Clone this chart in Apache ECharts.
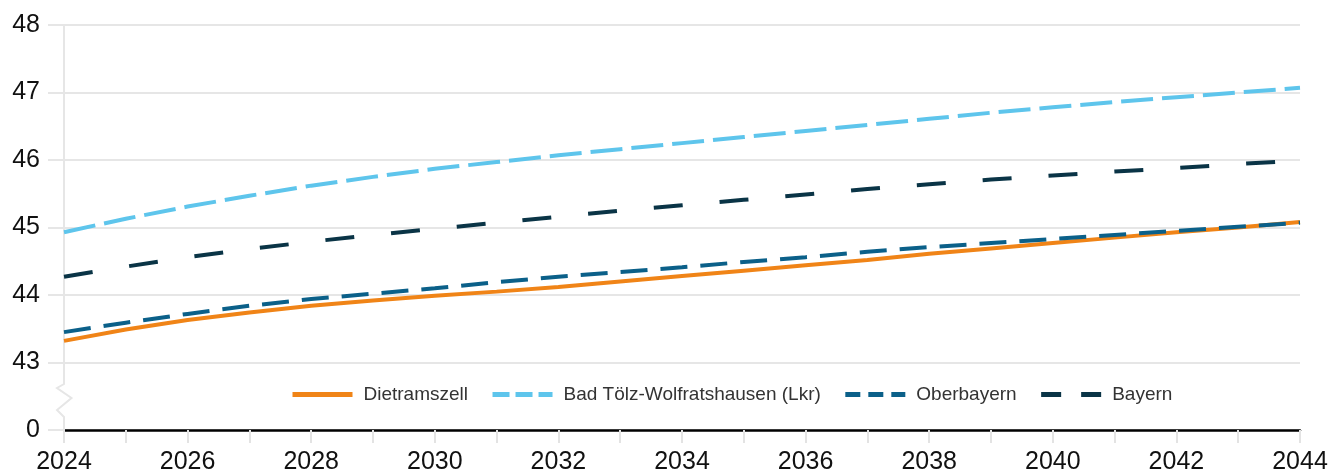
<!DOCTYPE html>
<html>
<head>
<meta charset="utf-8">
<script src="https://cdn.jsdelivr.net/npm/echarts@6/dist/echarts.min.js"></script>
<style>
html,body{margin:0;padding:0;background:#fff;}
#chart{width:1335px;height:476px;}
</style>
</head>
<body>
<div id="chart"></div>
<script>
// ---- Data ----
const years = [2024,2025,2026,2027,2028,2029,2030,2031,2032,2033,2034,2035,2036,2037,2038,2039,2040,2041,2042,2043,2044];
const seriesNames = ['Dietramszell', 'Bad Tölz-Wolfratshausen (Lkr)', 'Oberbayern', 'Bayern'];
const dietramszell = [43.32,43.49,43.63,43.74,43.84,43.92,43.99,44.05,44.12,44.20,44.28,44.36,44.44,44.52,44.61,44.69,44.77,44.85,44.93,45.00,45.08];
const badToelz     = [44.93,45.13,45.31,45.47,45.62,45.75,45.87,45.97,46.07,46.16,46.25,46.34,46.43,46.52,46.61,46.70,46.78,46.86,46.93,47.00,47.07];
const oberbayern   = [43.45,43.59,43.72,43.84,43.94,44.02,44.10,44.19,44.27,44.34,44.41,44.49,44.56,44.64,44.71,44.77,44.83,44.89,44.95,45.01,45.07];
const bayern       = [44.27,44.42,44.56,44.68,44.79,44.89,44.98,45.07,45.16,45.25,45.33,45.41,45.49,45.57,45.64,45.71,45.77,45.83,45.88,45.94,45.99];
// y-axis: broken axis, lowest tick shown as 0
const yTickLabels = {42:'0',43:'43',44:'44',45:'45',46:'46',47:'47',48:'48'};

const colors = ['#F08417', '#5EC5EC', '#0B6089', '#0A3446'];
const dashes = [null, [32, 9], [27, 13], [29, 37]];
const legendDashes = [null, [17, 6], [15, 8], [20, 20]];

function pairs(arr){ return years.map((y,i)=>[y, arr[i]]); }
const allData = [dietramszell, badToelz, oberbayern, bayern];

const chart = echarts.init(document.getElementById('chart'), null, {renderer:'canvas'});

const series = seriesNames.map((n,i)=>({
  name: n,
  type: 'line',
  data: pairs(allData[i]),
  showSymbol: false,
  symbol: 'none',
  smooth: false,
  lineStyle: {color: colors[i], width: 4, type: dashes[i] || 'solid', cap: 'butt'},
  itemStyle: {color: colors[i]},
  z: 3 + i
}));

const option = {
  animation: false,
  grid: {left: 64, right: 35, top: 25, bottom: 46, containLabel: false},
  legend: {
    left: 285, top: 380,
    itemWidth: 60, itemHeight: 18, itemGap: 22,
    data: seriesNames.map((n,i)=>({
      name: n,
      itemStyle: {opacity: 0},
      lineStyle: {color: colors[i], width: 5, type: legendDashes[i] || 'solid', cap:'butt'}
    })),
    textStyle: {fontFamily: 'Liberation Sans', fontSize: 19, color: '#333', padding: [0,0,0,6]}
  },
  xAxis: {
    type: 'value', min: 2024, max: 2044, interval: 1,
    axisLine: {show: true, onZero: false, lineStyle: {color: '#000', width: 2.5}},
    axisTick: {show: true, length: 13, lineStyle: {color: '#e3e3e3', width: 2}},
    splitLine: {show: false},
    axisLabel: {
      fontFamily: 'Liberation Sans', fontSize: 25, lineHeight: 20, color: '#111', margin: 22,
      formatter: v => (v % 2 === 0 ? String(v) : '')
    }
  },
  yAxis: {
    type: 'value', min: 42, max: 48, interval: 1,
    axisLine: {show: false},
    axisTick: {show: true, length: 16, lineStyle: {color: '#e6e6e6', width: 2}},
    splitLine: {show: true, lineStyle: {color: '#e6e6e6', width: 2}},
    axisLabel: {
      fontFamily: 'Liberation Sans', fontSize: 25, color: '#111', margin: 24,
      formatter: v => yTickLabels[v] !== undefined ? yTickLabels[v] : ''
    }
  },
  series: series
};
chart.setOption(option);

// y axis line with zigzag break symbol (decoration), positioned via the axis scales
const topPx = chart.convertToPixel({gridIndex:0}, [2024, 48]);
const basePx = chart.convertToPixel({gridIndex:0}, [2024, 42]);
const x0 = basePx[0], y0 = basePx[1];
chart.setOption({
  graphic: [{
    type: 'polyline', z: 1, silent: true,
    shape: {points: [
      [x0, topPx[1]], [x0, y0 - 46], [x0 - 7, y0 - 42], [x0 + 7.5, y0 - 32],
      [x0 - 7, y0 - 20], [x0, y0 - 13], [x0, y0]
    ]},
    style: {stroke: '#e6e6e6', lineWidth: 2, fill: null}
  }]
});
</script>
</body>
</html>
